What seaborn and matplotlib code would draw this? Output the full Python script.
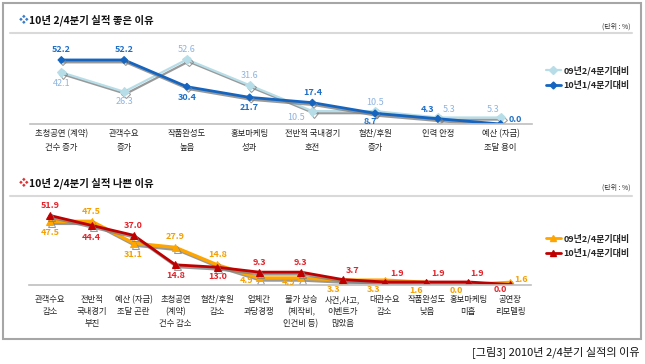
import matplotlib
matplotlib.use("Agg")
import matplotlib.pyplot as plt
import matplotlib.patheffects as pe
from matplotlib.lines import Line2D
from matplotlib.patches import Rectangle
import pandas as pd
import seaborn as sns

# 데이터
good_cats = ['초청공연 (계약)\n건수 증가', '관객수요\n증가', '작품완성도\n높음', '홍보마케팅\n성과',
             '전반적 국내경기\n호전', '협찬/후원\n증가', '인력 안정', '예산 (자금)\n조달 용이']
good_09 = [42.1, 26.3, 52.6, 31.6, 10.5, 10.5, 5.3, 5.3]
good_10 = [52.2, 52.2, 30.4, 21.7, 17.4, 8.7, 4.3, 0.0]

bad_cats = ['관객수요\n감소', '전반적\n국내경기\n부진', '예산 (자금)\n조달 곤란', '초청공연\n(계약)\n건수 감소',
            '협찬/후원\n감소', '업체간\n과당경쟁', '물가 상승\n(제작비,\n인건비 등)', '사건,사고,\n이벤트가\n많았음',
            '대관수요\n감소', '작품완성도\n낮음', '홍보마케팅\n미흡', '공연장\n리모델링']
bad_09 = [47.5, 47.5, 31.1, 27.9, 14.8, 4.9, 4.9, 3.3, 3.3, 1.6, 0.0, 1.6]
bad_10 = [51.9, 44.4, 37.0, 14.8, 13.0, 9.3, 9.3, 3.7, 1.9, 1.9, 1.9, 0.0]

s09 = '09년2/4분기대비'
s10 = '10년1/4분기대비'

# 라벨 위치 (픽셀 오프셋)
good_off_09 = [(0, -11), (0, -10), (0, 10), (0, 10), (-16, -6), (0, 9), (11, 8), (-8, 8)]
good_off_10 = [(0, 10), (0, 10), (0, -11), (0, -10), (0, 10), (-5, -8), (-10, 9), (15, 4)]
bad_off_09 = [(0, -11), (0, 10), (0, -11), (0, 11), (0, 10), (-13, -3), (-12, -5), (-9, -9),
              (-11, -9), (-10, -8), (-12, -6), (11, 3)]
bad_off_10 = [(0, 10), (0, -12), (0, 10), (0, -11), (0, -9), (0, 10), (0, 10), (10, 9),
              (12, 8), (12, 8), (9, 8), (-10, -5)]

sns.set_style('white')
plt.rcParams['font.family'] = ['Noto Sans CJK KR', 'DejaVu Sans']

W, H = 645, 364
fig = plt.figure(figsize=(W / 100, H / 100), dpi=100)


def px_rect(x0, y_axis, width, height):
    return [x0 / W, (H - y_axis) / H, width / W, height / H]


def draw_panel(ax, cats, v09, v10, c09, c10, m09, m10, ms09, ms10, lw09, lw10,
               lc09, lc10, off09, off10, bold09, tick_ls, tick_pad):
    df = pd.DataFrame({'cat': cats * 2, 'val': v09 + v10,
                       'series': [s09] * len(cats) + [s10] * len(cats)})
    sns.lineplot(data=df, x='cat', y='val', hue='series', style='series',
                 palette={s09: c09, s10: c10}, markers={s09: m09, s10: m10},
                 dashes=False, sort=False, ax=ax, legend=False)
    lines = ax.get_lines()
    lines[0].set_linewidth(lw09)
    lines[0].set_markersize(ms09)
    lines[0].set_markeredgecolor(c09)
    lines[1].set_linewidth(lw10)
    lines[1].set_markersize(ms10)
    lines[1].set_markeredgecolor(c10)
    for ln in lines:
        ln.set_path_effects([pe.SimpleLineShadow(offset=(1.2, -1.5), shadow_color='#808080', alpha=0.8),
                             pe.Normal()])
    ax.set_ylim(0, 60)
    ax.set_xlim(-0.5, len(cats) - 0.5)
    for spine in ['top', 'right', 'left']:
        ax.spines[spine].set_visible(False)
    ax.spines['bottom'].set_color('#BFBFBF')
    ax.spines['bottom'].set_linewidth(1.2)
    ax.set_yticks([])
    ax.set_xlabel('')
    ax.set_ylabel('')
    ax.tick_params(axis='x', length=0, labelsize=6, pad=tick_pad, colors='#222222')
    for t in ax.get_xticklabels():
        t.set_linespacing(tick_ls)
    for i, v in enumerate(v09):
        ax.annotate(f'{v:.1f}', (i, v), xytext=(off09[i][0] * 0.72, off09[i][1] * 0.72),
                    textcoords='offset points', ha='center', va='center', fontsize=6.5,
                    color=lc09, fontweight='bold' if bold09 else 'normal', zorder=5)
    for i, v in enumerate(v10):
        ax.annotate(f'{v:.1f}', (i, v), xytext=(off10[i][0] * 0.72, off10[i][1] * 0.72),
                    textcoords='offset points', ha='center', va='center', fontsize=6.5,
                    color=lc10, fontweight='bold', zorder=5)


ax1 = fig.add_axes(px_rect(30, 124, 502, 73.6))
draw_panel(ax1, good_cats, good_09, good_10, '#B7DEE8', '#1565C0', 'D', 'D', 4.5, 3.5, 1.6, 2.0,
           '#8DB4E2', '#1F6FC5', good_off_09, good_off_10, False, 1.7, 3.5)

ax2 = fig.add_axes(px_rect(29, 284.5, 502, 79.8))
draw_panel(ax2, bad_cats, bad_09, bad_10, '#FFA500', '#C00000', '^', '^', 5, 5, 2.4, 2.0,
           '#F5A000', '#E3242B', bad_off_09, bad_off_10, True, 1.4, 7.5)

# 틀과 제목
fig.patches.append(Rectangle((3 / W, (H - 339) / H), 638 / W, 336 / H, transform=fig.transFigure,
                             fill=False, edgecolor='#A6A6A6', linewidth=1.5))
for y in (33, 196):
    fig.add_artist(Line2D([10 / W, 632 / W], [(H - y) / H] * 2, color='#D9D9D9', linewidth=1.5))

fig.text(19 / W, (H - 20) / H, '❖', color='#3A7CC8', fontsize=7, ha='left', va='center')
fig.text(29 / W, (H - 20) / H, '10년 2/4분기 실적 좋은 이유', fontsize=7.5, fontweight='bold',
         ha='left', va='center', color='#111111')
fig.text(19 / W, (H - 183) / H, '❖', color='#E03030', fontsize=7, ha='left', va='center')
fig.text(29 / W, (H - 183) / H, '10년 2/4분기 실적 나쁜 이유', fontsize=7.5, fontweight='bold',
         ha='left', va='center', color='#111111')
for y in (27, 188):
    fig.text(631 / W, (H - y) / H, '(단위 : %)', fontsize=5, ha='right', va='center', color='#333333')

fig.text(640 / W, (H - 352) / H, '[그림3] 2010년 2/4분기 실적의 이유', fontsize=8,
         ha='right', va='center', color='#111111')

# 범례
leg1 = [Line2D([], [], color='#B7DEE8', marker='D', markersize=4, linewidth=1.6, label=s09),
        Line2D([], [], color='#1565C0', marker='D', markersize=3.5, linewidth=2.0, label=s10)]
fig.legend(handles=leg1, loc='center left', bbox_to_anchor=(538 / W, (H - 78) / H), frameon=False,
           prop={'weight': 'bold', 'size': 6.5}, handlelength=1.6, handletextpad=0.3,
           labelspacing=0.55)
leg2 = [Line2D([], [], color='#FFA500', marker='^', markersize=4, linewidth=2.0, label=s09),
        Line2D([], [], color='#C00000', marker='^', markersize=4, linewidth=2.0, label=s10)]
fig.legend(handles=leg2, loc='center left', bbox_to_anchor=(538 / W, (H - 246) / H), frameon=False,
           prop={'weight': 'bold', 'size': 6.5}, handlelength=1.6, handletextpad=0.3,
           labelspacing=0.55)

fig.savefig('out.png', dpi=100)
